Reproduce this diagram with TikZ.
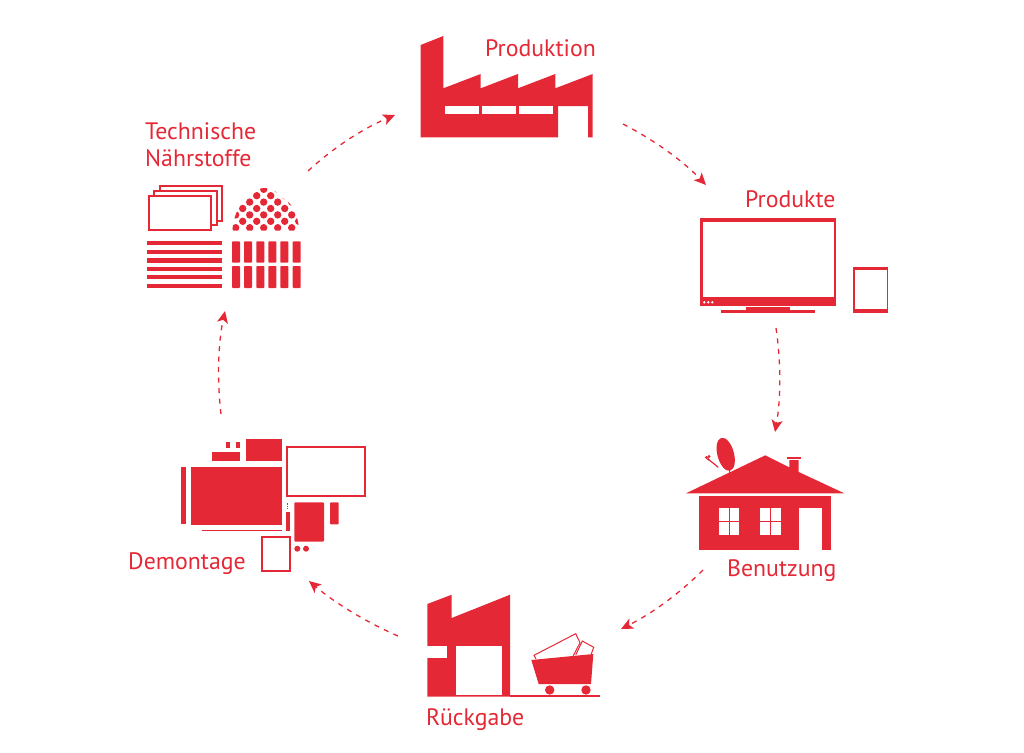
\documentclass[tikz,border=0pt]{standalone}
\usepackage{fontspec}
\setmainfont{PT Sans}
\usetikzlibrary{arrows.meta}
\definecolor{rd}{HTML}{E52836}
\tikzset{
  x=1pt,y=-1pt,
  solid shape/.style={fill=rd,draw=none},
  outline/.style={draw=rd,line width=2pt,fill=white},
  cut/.style={fill=white,draw=none},
  label text/.style={text=rd,anchor=base west,inner sep=0pt,font=\fontsize{23.8}{24}\selectfont},
  flow/.style={draw=rd,line width=1.3pt,dash pattern=on 5pt off 5.5pt,-{Stealth[length=12pt,width=11pt,inset=3pt]}},
}
\begin{document}
\begin{tikzpicture}
\useasboundingbox (0,0) rectangle (1024,752);
% Produktion
\fill[solid shape] (420.7,45) -- (443.3,36) -- (443.3,88.3) -- (480.7,74) -- (480.7,88.3) -- (518,74) -- (518,88.3) -- (555.3,74) -- (555.3,88.3) -- (592.7,74) -- (592.7,137.3) -- (588,137.3) -- (588,106) -- (558,106) -- (558,137.3) -- (420.7,137.3) -- cycle;
\fill[cut] (444.7,106) rectangle (478.7,114);
\fill[cut] (482,106) rectangle (515.7,114);
\fill[cut] (519,106) rectangle (552.7,114);
\node[label text] (produktion) at (485,56.5) {Produktion};
% Produkte
\fill[solid shape] (699.7,217.7) rectangle (836.3,305.7);
\fill[cut] (702.7,221.7) rectangle (833.7,296.7);
\foreach \px in {704.3,708.3,712.3} \fill[white] (\px,302.3) circle (1.3);
\fill[solid shape] (746,306.7) rectangle (790,310.3);
\fill[solid shape] (721,310.3) rectangle (815,313);
\fill[solid shape] (853.3,266.7) rectangle (888.3,313);
\fill[cut] (855.3,269.7) rectangle (886.7,309.3);
\node[label text] (produkte) at (745,207) {Produkte};
% Benutzung
\fill[solid shape] (686,493.3) -- (765.3,455.3) -- (789.3,467.3) -- (789.3,460) -- (798.7,460) -- (798.7,472) -- (844.3,493.3) -- cycle;
\fill[solid shape] (787,457) rectangle (801,459.3);
\fill[solid shape] (699,495.7) rectangle (831.3,549.7);
\fill[cut] (798.7,507.7) rectangle (822,549.7);
\fill[cut] (718.7,507.7) rectangle (739.3,534.7);
\fill[cut] (760,507.7) rectangle (781,534.7);
\fill[solid shape] (728.5,507.7) rectangle (729.5,534.7);
\fill[solid shape] (718.7,520.7) rectangle (739.3,521.7);
\fill[solid shape] (770,507.7) rectangle (771,534.7);
\fill[solid shape] (760,520.7) rectangle (781,521.7);
\fill[solid shape,rotate around={15:(725.7,454.3)}] (725.7,454.3) ellipse (8.3 and 17);
\draw[rd,line width=1.2pt] (708.3,459.3) -- (718.3,467.3);
\fill[rd] (706.5,457.5) circle (1.6);
\fill[rd] (709,456.5) circle (1.6);
\fill[rd] (708.2,459.3) circle (1.4);
\draw[rd,line width=1pt] (729.7,467) -- (729.7,473);
\node[label text] (benutzung) at (727,576) {Benutzung};
% Rueckgabe
\fill[solid shape] (427.3,604) -- (451.7,594.7) -- (451.7,618) -- (510,594.7) -- (510,696.7) -- (427.3,696.7) -- cycle;
\fill[cut] (456,646) rectangle (502.3,695.3);
\fill[cut] (427.3,646) rectangle (447,658);
\fill[solid shape] (510,695) rectangle (600,696.7);
\draw[rd,line width=1pt] (536,659) -- (534,655.3) -- (575.7,633.7) -- (580,642.7) -- (573.3,655.7);
\draw[rd,line width=1pt] (575.7,655) -- (582.3,641) -- (593.7,647.3) -- (591.3,654);
\fill[solid shape] (531.3,660) -- (593.3,654) -- (591,684) -- (538.7,684) -- cycle;
\fill[rd] (549.7,690) circle (4.7);
\fill[rd] (586,690) circle (4.7);
\node[label text] (rueckgabe) at (426,725) {Rückgabe};
% Demontage
\fill[solid shape] (226.3,442) rectangle (230.3,448.3);
\fill[solid shape] (236,442) rectangle (240,448.3);
\fill[solid shape] (212.3,452.3) rectangle (240,461.3);
\fill[solid shape] (245.7,438.7) rectangle (282,461.3);
\draw[outline] (287,447) rectangle (365,496.4);
\fill[solid shape] (181,466.7) rectangle (186,524.3);
\fill[solid shape] (191,466.7) rectangle (282,525);
\fill[solid shape] (202,529.7) rectangle (282,531);
\draw[rd,line width=0.8pt,dash pattern=on 0.8pt off 0.9pt] (287.3,502.7) -- (287.3,508.7);
\fill[solid shape] (286,512) rectangle (290,531);
\fill[solid shape,rounded corners=1pt] (294.3,502.3) rectangle (324,541.7);
\fill[solid shape,rounded corners=1pt] (330,502.3) rectangle (338.7,524.3);
\draw[outline] (262.3,537) rectangle (290,571);
\fill[rd] (297.3,548.7) circle (3);
\fill[rd] (306,548.7) circle (3);
\node[label text] (demontage) at (128,569) {Demontage};
% Technische Naehrstoffe
\draw[outline] (160.2,186.2) rectangle (222.2,220.8);
\draw[outline] (154.2,190.9) rectangle (216.5,225.2);
\draw[outline] (148.9,195.6) rectangle (210.5,230.2);
\foreach \ya/\yb in {241.3/245.3,250/254,258.3/262.7,266.7/271,275/279.3,283.7/288}
  \fill[solid shape] (147,\ya) rectangle (221.7,\yb);
\foreach \xa/\xb in {232/240,244/252,256.3/264.3,268.3/276.3,280.3/288.3,292.7/300.7}{
  \fill[solid shape,rounded corners=0.8pt] (\xa,241.3) rectangle (\xb,262.7);
  \fill[solid shape,rounded corners=0.8pt] (\xa,266) rectangle (\xb,288);
}
\begin{scope}
  \clip (232.3,230.7) .. controls (234,212) and (240,205) .. (246,200) .. controls (250,192) and (258,188) .. (264,188) .. controls (272,188) and (278,192) .. (281,198) .. controls (285,198) and (290,203) .. (293,208) .. controls (297,215) and (299,224) .. (299,230.7) -- cycle;
  \foreach \r in {0,...,6}{
    \pgfmathsetmacro{\yy}{189.3+\r*6.4}
    \pgfmathsetmacro{\off}{mod(\r,2)==0 ? 7 : 0}
    \foreach \c in {0,...,5}{
      \fill[rd] ({228.7+\c*14+\off},\yy) circle (3.7);
    }
  }
\end{scope}
\node[label text] (technische) at (145,139) {Technische};
\node[label text] (naehrstoffe) at (145,166) {Nährstoffe};
% Flow ends
\coordinate (a1) at (623,124); \coordinate (b1) at (706,185);
\coordinate (a2) at (776,328); \coordinate (b2) at (775,432);
\coordinate (a3) at (703,570); \coordinate (b3) at (621,629);
\coordinate (a4) at (398,636); \coordinate (b4) at (309,581);
\coordinate (a5) at (221,414); \coordinate (b5) at (225,311);
\coordinate (a6) at (308,171); \coordinate (b6) at (395,115);
\draw[flow] (a1) .. controls (652,139) and (681,159) .. (b1);
\draw[flow] (a2) .. controls (781,362) and (781,398) .. (b2);
\draw[flow] (a3) .. controls (679,594) and (651,614) .. (b3);
\draw[flow] (a4) .. controls (366,622) and (335,603) .. (b4);
\draw[flow] (a5) .. controls (217,380) and (218,344) .. (b5);
\draw[flow] (a6) .. controls (333,148) and (362,129) .. (b6);
\end{tikzpicture}
\end{document}
